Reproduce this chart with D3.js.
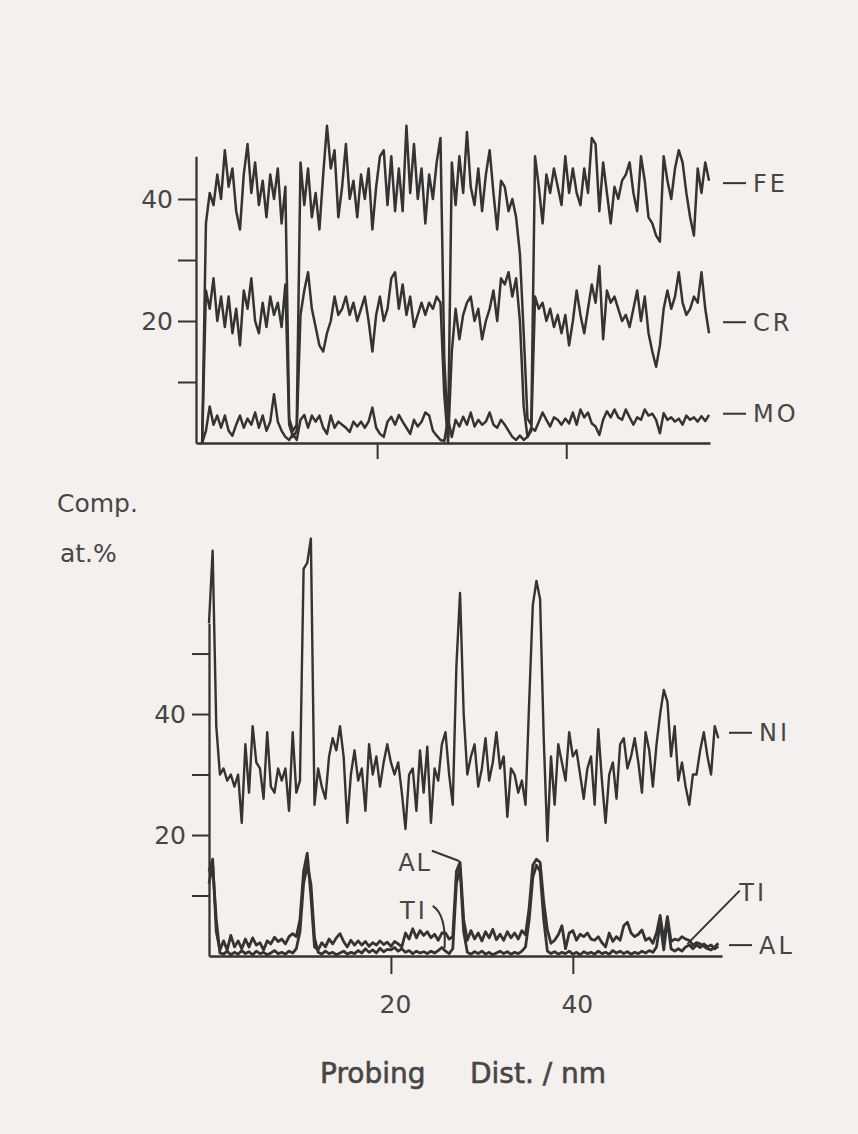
<!DOCTYPE html>
<html>
<head>
<meta charset="utf-8">
<script src="https://cdn.jsdelivr.net/npm/d3@7"></script>
<style>
  body { margin: 0; background: #f3f0ed; }
  svg { display: block; }
</style>
</head>
<body>
<svg id="chart" width="858" height="1134"></svg>
<script>
// probing grid: one reading every 0.4 nm
const step = 0.4;
const topStart = 1.5;     // nm, first reading of the upper trace set
const bottomStart = 0;    // nm, first reading of the lower trace set

// upper panel, at.%
const fe = [0,36,41,39,44,40,48,42,45,38,
  35,44,49,41,46,39,43,37,44,40,
  45,36,42,4,2,3,46,39,45,37,
  41,35,44,52,45,48,37,42,49,40,
  43,37,44,40,45,35,42,47,48,39,
  47,38,45,38,52,41,49,40,45,36,
  44,40,46,50,14,1,46,39,47,41,
  51,42,39,45,38,44,48,41,35,43,
  42,38,40,37,31,18,4,3,47,42,
  36,44,41,45,42,39,47,41,45,41,
  39,45,41,50,49,38,46,41,36,42,
  40,43,44,46,41,38,47,43,37,36,
  34,33,47,43,40,45,48,46,41,37,
  34,45,41,46,43];
const cr = [0,25,22,27,20,24,19,24,18,22,
  16,25,22,27,20,18,23,19,24,21,
  23,19,26,3,1,2,21,25,28,22,
  19,16,15,18,20,24,21,22,24,21,
  23,20,22,24,20,15,21,24,20,22,
  27,28,22,26,21,24,19,21,23,21,
  23,22,24,23,8,0,15,22,17,21,
  23,24,20,22,17,20,22,25,20,27,
  26,28,24,27,20,6,1,2,24,22,
  23,20,22,19,21,18,21,16,20,25,
  21,18,22,26,23,29,17,25,23,24,
  22,20,21,19,22,25,20,24,18,15,
  12.5,16,22,25,22,24,28,23,21,22,
  24,23,28,22,18];
const mo = [0,2,6,3,4.5,2.5,4.5,2,1.2,3,
  4.5,2.5,4,3,5,2.5,4.5,2,3.5,8,
  3.5,2,1,0.5,1.5,0.5,3.8,4.6,2.5,4.5,
  3.5,4.5,2.5,1.5,4.5,2.5,3.5,3,2.5,1.8,
  3.5,2.7,3.5,2.5,3.5,5.8,2.5,1.5,1,3.5,
  4.3,3,4.6,3.5,2.5,1.5,3.8,2.7,3.5,5,
  4.5,2,1.2,0.5,0.3,4,1,3.8,2.7,4.3,
  3,5,2.7,3.8,3,3.5,5,3,2.5,3.8,
  3,2,1,0.5,1.2,0.5,1,2.5,2,3.5,
  5,3.8,2.7,4.2,3.8,3,4,3.2,5,3,
  5.5,4.2,5,3.2,2.7,1.3,3.8,5.2,4.2,5.5,
  4.2,3.8,5.5,4.2,3,4.2,3.8,5.5,4.5,4.8,
  3.8,1.6,4.9,3.8,4.2,3.5,4,3,4.5,3.8,
  4.2,3.5,4.4,3.6,4.6];

// lower panel, at.%
const ni = [55,67,38,30,31,29,30,28,30,22,
  35,27,38,32,31,26,37,28,27,31,
  29,31,24,37,27,29,64,65,69,25,
  31,28,26,33,36,34,38,33,22,30,
  34,29,31,24,35,30,33,28,32,35,
  32,30,32,27,21,30,31,24,34,27,
  34.6,22,31,29,35,37,30,25,48,60,
  40,30,33,35,28,31,36,29,32,37,
  31,33,23,31,30,27,29,25,42,58,
  62,59,36,19,33,25,35,32,29,37,
  33,34,30,26,31,33,25,37.5,29,22,
  30,32,26,35,36,31,33,36,32,27,
  37,34,28,35,40,44,42,33,38,29,
  32,28,25,30,30,34,37,33,30,38,
  36];
const al = [14,16,4,1,2.5,1,3.4,1.5,2.5,1.2,
  2.8,1.5,3,1.8,2.2,1,2.5,2,3.1,2.4,
  2.8,2,3.2,3.7,3.2,6,14,17,10,1.5,
  1,2.2,1.5,2.8,2,3,3.7,2.4,1.5,2.6,
  1.8,2.5,1.8,2.4,1.6,2.2,1.8,2.5,1.9,2.3,
  1.6,2.4,2,1.5,3.8,2.8,4.5,3,4.2,3.4,
  4,3,3.6,2.6,3.8,3.8,2.8,3.2,14,15.5,
  6,2.6,4.2,2.8,3.8,2.5,4,3,4.4,2.7,
  3.6,2.6,4,3,3.8,2.8,4.2,3.5,8,15,
  16,15.5,9,4.3,2.1,2.6,3.5,5,1.2,3.8,
  4.2,2.6,3.6,3.2,3.8,2.8,2.6,3.2,2.2,1.5,
  3.8,2.4,3.2,2.6,5,5.6,3.8,3.2,3.6,4.3,
  2.6,3,2.1,3.8,6.7,2.6,6.5,2.4,2.8,2.6,
  3.2,2.8,2.6,1.8,2.2,2,1.6,1.2,1,1.5,
  2.1];
const ti = [12,15,6,0.5,0.3,0.8,0.2,0.6,0.3,0.9,
  0.4,0.7,0.2,0.8,0.4,0.6,0.2,0.5,0.9,0.4,
  0.6,0.3,0.8,0.5,1.2,4,12,15,12,3,
  0.6,0.3,0.8,0.4,0.6,0.2,0.5,0.8,0.3,0.6,
  0.4,0.9,0.5,1.2,0.6,1,0.5,1.3,0.7,1.1,
  1,1.4,0.8,1.2,0.6,0.9,0.4,0.8,0.5,0.7,
  0.4,0.8,0.5,0.9,1.4,0.8,0.4,1.2,12,14.5,
  4,0.6,0.3,0.7,0.4,0.8,0.3,0.6,0.2,0.5,
  0.8,0.4,0.7,0.3,0.6,0.4,0.8,1.5,6,13,
  15,14,6,0.8,0.4,0.7,0.3,0.6,0.4,0.8,
  0.3,0.6,0.2,0.7,0.4,0.6,0.3,0.8,0.4,0.6,
  0.3,0.9,0.5,0.8,0.4,0.7,0.3,0.6,0.4,0.8,
  0.5,0.9,0.6,1.5,5.5,1,6,1.2,0.8,1.2,
  0.8,1.5,1.8,1.2,1.8,1.4,2,1.5,1.8,1.2,
  1.6];

const yTickValues = [10, 20, 30, 40];
const yBotTickValues = [10, 20, 30, 40, 50];
const yLabelled = [20, 40];
const xTickValues = [20, 40];

// end-of-trace labels: [name, value in at.%]
const topLabels = [["FE", 42.6], ["CR", 19.8], ["MO", 4.8]];
const botLabels = [["NI", 36.9], ["AL", 1.8]];

const ink = "#363433";
const textInk = "#484645";
const font = "DejaVu Sans, Liberation Sans, sans-serif";

const svg = d3.select("#chart");

const xTop = d3.scaleLinear().domain([0.85, 55.2]).range([196, 710]);
const yTop = d3.scaleLinear().domain([0, 47]).range([443, 156.3]);
const xBot = d3.scaleLinear().domain([0, 56.4]).range([209, 722]);
const yBot = d3.scaleLinear().domain([0, 55]).range([956, 623.3]);

function styleAxis(g) {
  g.attr("font-family", font).attr("font-size", 25);
  g.select(".domain").attr("stroke", ink).attr("stroke-width", 2.3);
  g.selectAll(".tick line").attr("stroke", ink).attr("stroke-width", 2);
  g.selectAll(".tick text").attr("fill", textInk);
}

// ---- upper panel ----
svg.append("g")
  .attr("transform", `translate(${xTop.range()[0]},0)`)
  .call(d3.axisLeft(yTop).tickValues(yTickValues).tickSize(18).tickSizeOuter(0)
    .tickPadding(5).tickFormat(d => yLabelled.includes(d) ? d : ""))
  .call(styleAxis);
svg.append("g")
  .attr("transform", `translate(0,${yTop(0)})`)
  .call(d3.axisBottom(xTop).tickValues(xTickValues).tickSize(16).tickSizeOuter(0).tickFormat(""))
  .call(styleAxis);

const lineTop = d3.line()
  .x((d, i) => xTop(topStart + i * step))
  .y(d => yTop(d));

svg.append("g")
  .selectAll("path")
  .data([mo, cr, fe])
  .join("path")
    .attr("d", lineTop)
    .attr("fill", "none")
    .attr("stroke", ink)
    .attr("stroke-width", 2.5)
    .attr("stroke-linejoin", "round");

// ---- lower panel ----
svg.append("g")
  .attr("transform", `translate(${xBot.range()[0]},0)`)
  .call(d3.axisLeft(yBot).tickValues(yBotTickValues).tickSize(17).tickSizeOuter(0)
    .tickPadding(6).tickFormat(d => yLabelled.includes(d) ? d : ""))
  .call(styleAxis);
svg.append("g")
  .attr("transform", `translate(0,${yBot(0)})`)
  .call(d3.axisBottom(xBot).tickValues(xTickValues).tickSize(18).tickSizeOuter(0).tickPadding(21))
  .call(styleAxis)
  .selectAll(".tick text").attr("dx", 4);

const lineBot = d3.line()
  .x((d, i) => xBot(bottomStart + i * step))
  .y(d => yBot(d));

svg.append("g")
  .selectAll("path")
  .data([ti, al, ni])
  .join("path")
    .attr("d", lineBot)
    .attr("fill", "none")
    .attr("stroke", ink)
    .attr("stroke-width", (d, i) => i < 2 ? 2.8 : 2.4)
    .attr("stroke-linejoin", "round");

// ---- trace labels ----
function traceLabels(list, y, x0) {
  const g = svg.append("g");
  list.forEach(([name, v]) => {
    g.append("line")
      .attr("x1", x0).attr("x2", x0 + 23)
      .attr("y1", y(v)).attr("y2", y(v))
      .attr("stroke", ink).attr("stroke-width", 2);
    g.append("text")
      .attr("x", x0 + 30).attr("y", y(v))
      .attr("dy", "0.36em")
      .attr("font-family", font).attr("font-size", 24)
      .attr("letter-spacing", 3)
      .attr("fill", textInk)
      .text(name);
  });
}
traceLabels(topLabels, yTop, 723);
traceLabels(botLabels, yBot, 729);

// annotations in the lower panel
const ann = svg.append("g").attr("font-family", font).attr("font-size", 24).attr("fill", textInk);
ann.append("text").attr("x", xBot(58.3)).attr("y", yBot(10.6)).attr("dy", "0.36em")
  .attr("letter-spacing", 3).text("TI");
ann.append("line")
  .attr("x1", xBot(58.35)).attr("y1", yBot(10.8))
  .attr("x2", xBot(52.6)).attr("y2", yBot(2))
  .attr("stroke", ink).attr("stroke-width", 2);

ann.append("text").attr("x", xBot(20.8)).attr("y", yBot(15.4)).attr("dy", "0.36em")
  .attr("letter-spacing", 2).text("AL");
ann.append("line")
  .attr("x1", xBot(24.5)).attr("y1", yBot(17.4))
  .attr("x2", xBot(27.5)).attr("y2", yBot(15.7))
  .attr("stroke", ink).attr("stroke-width", 2);

ann.append("text").attr("x", xBot(21)).attr("y", yBot(7.6)).attr("dy", "0.36em")
  .attr("letter-spacing", 3).text("TI");
ann.append("path")
  .attr("d", `M${xBot(24.6)},${yBot(8.3)} Q${xBot(26.1)},${yBot(6.8)} ${xBot(25.9)},${yBot(1.3)}`)
  .attr("fill", "none").attr("stroke", ink).attr("stroke-width", 2);

// axis titles
const titles = svg.append("g").attr("font-family", font).attr("fill", textInk);
titles.append("text").attr("x", 57).attr("y", 512).attr("font-size", 25).text("Comp.");
titles.append("text").attr("x", 60).attr("y", 562).attr("font-size", 25).text("at.%");
titles.selectAll(null)
  .data([["Probing", 320], ["Dist. / nm", 470]])
  .join("text")
    .attr("x", d => d[1]).attr("y", 1083)
    .attr("font-size", 28)
    .attr("stroke", textInk).attr("stroke-width", 0.6)
    .text(d => d[0]);
</script>
</body>
</html>
